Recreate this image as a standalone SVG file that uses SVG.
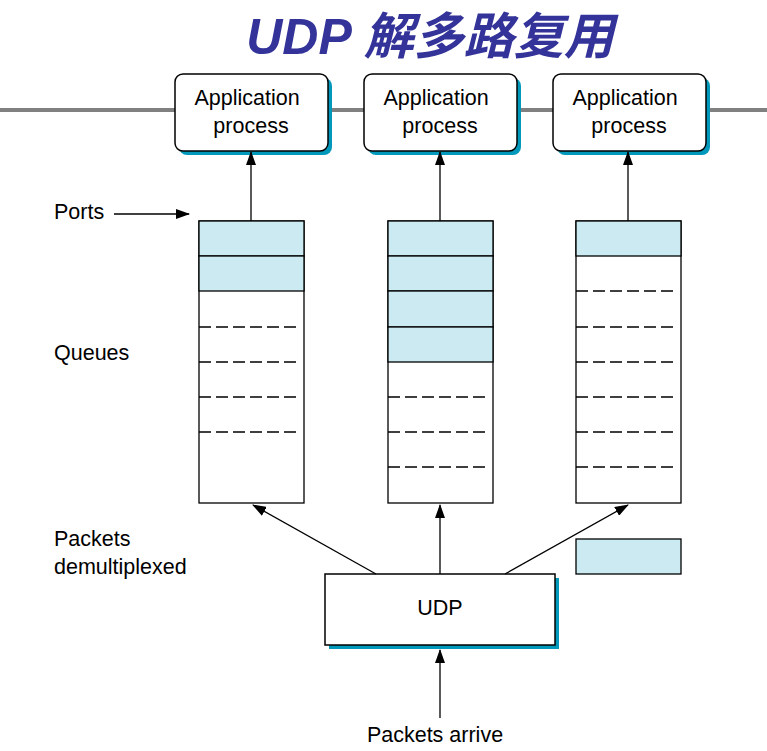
<svg xmlns="http://www.w3.org/2000/svg" width="767" height="751" viewBox="0 0 767 751">
<style>
.t{font-family:"Liberation Sans",Arial,sans-serif;font-size:21.5px;fill:#000}
.app{fill:#fff;stroke:#000;stroke-width:1.5}
.sh{fill:#0099bb}
.q{fill:#fff;stroke:#000;stroke-width:1.3}
.p{fill:#cceaf1;stroke:#000;stroke-width:1.3}
.d{stroke:#000;stroke-width:1.3;stroke-dasharray:12,5}
.c{stroke:#000;stroke-width:1.3;fill:none;marker-end:url(#ah)}
</style>
<defs>
<marker id="ah" markerWidth="14" markerHeight="10" refX="13" refY="5" orient="auto" markerUnits="userSpaceOnUse">
<path d="M0,0 L14,5 L0,10 Z" fill="#000"/>
</marker>
</defs>
<rect width="767" height="751" fill="#fff"/>
<text x="430" y="54" text-anchor="middle" style="font-family:'Liberation Sans','Noto Sans CJK SC',sans-serif;font-size:50px;font-weight:bold;font-style:italic;fill:#333399">UDP 解多路复用</text>
<line x1="0" y1="110" x2="767" y2="110" stroke="#808080" stroke-width="4"/>
<g id="app1">
<rect class="sh" x="179" y="78" width="153" height="77" rx="8"/>
<rect class="app" x="175" y="74" width="153" height="77" rx="8"/>
<text class="t" x="247" y="105" text-anchor="middle">Application</text>
<text class="t" x="251" y="133" text-anchor="middle">process</text>
</g>
<g id="app2">
<rect class="sh" x="368" y="78" width="153" height="77" rx="8"/>
<rect class="app" x="364" y="74" width="153" height="77" rx="8"/>
<text class="t" x="436" y="105" text-anchor="middle">Application</text>
<text class="t" x="440" y="133" text-anchor="middle">process</text>
</g>
<g id="app3">
<rect class="sh" x="557" y="78" width="153" height="77" rx="8"/>
<rect class="app" x="553" y="74" width="153" height="77" rx="8"/>
<text class="t" x="625" y="105" text-anchor="middle">Application</text>
<text class="t" x="629" y="133" text-anchor="middle">process</text>
</g>
<g id="queue1">
<rect class="q" x="199" y="221" width="105" height="282"/>
<rect class="p" x="199" y="221" width="105" height="35"/>
<rect class="p" x="199" y="256" width="105" height="35"/>
<line class="d" x1="199" y1="327" x2="300" y2="327"/>
<line class="d" x1="199" y1="362" x2="300" y2="362"/>
<line class="d" x1="199" y1="397" x2="300" y2="397"/>
<line class="d" x1="199" y1="432" x2="300" y2="432"/>
</g>
<g id="queue2">
<rect class="q" x="388" y="221" width="105" height="282"/>
<rect class="p" x="388" y="221" width="105" height="35"/>
<rect class="p" x="388" y="256" width="105" height="35"/>
<rect class="p" x="388" y="291" width="105" height="36"/>
<rect class="p" x="388" y="327" width="105" height="35"/>
<line class="d" x1="388" y1="397" x2="489" y2="397"/>
<line class="d" x1="388" y1="432" x2="489" y2="432"/>
<line class="d" x1="388" y1="467" x2="489" y2="467"/>
</g>
<g id="queue3">
<rect class="q" x="576" y="221" width="105" height="282"/>
<rect class="p" x="576" y="221" width="105" height="35"/>
<line class="d" x1="576" y1="291" x2="677" y2="291"/>
<line class="d" x1="576" y1="327" x2="677" y2="327"/>
<line class="d" x1="576" y1="362" x2="677" y2="362"/>
<line class="d" x1="576" y1="397" x2="677" y2="397"/>
<line class="d" x1="576" y1="432" x2="677" y2="432"/>
<line class="d" x1="576" y1="467" x2="677" y2="467"/>
</g>
<g id="packet">
<rect class="p" x="576" y="539" width="105" height="35"/>
</g>
<g id="udp">
<rect class="sh" x="329" y="578" width="230" height="71"/>
<rect class="app" x="325" y="574" width="230" height="71"/>
<text class="t" x="440" y="615" text-anchor="middle">UDP</text>
</g>
<g id="labels">
<text class="t" x="54" y="219">Ports</text>
<text class="t" x="54" y="360">Queues</text>
<text class="t" x="54" y="546">Packets</text>
<text class="t" x="54" y="574">demultiplexed</text>
<text class="t" x="435" y="742" text-anchor="middle">Packets arrive</text>
</g>
<g id="connectors">
<line class="c" x1="114" y1="214" x2="189" y2="214"/>
<line class="c" x1="251" y1="221" x2="251" y2="152"/>
<line class="c" x1="440" y1="221" x2="440" y2="152"/>
<line class="c" x1="628" y1="221" x2="628" y2="152"/>
<line class="c" x1="376" y1="574" x2="253" y2="505"/>
<line class="c" x1="440" y1="574" x2="440" y2="505"/>
<line class="c" x1="505" y1="574" x2="628" y2="505"/>
<line class="c" x1="440" y1="718" x2="440" y2="650"/>
</g>
</svg>
